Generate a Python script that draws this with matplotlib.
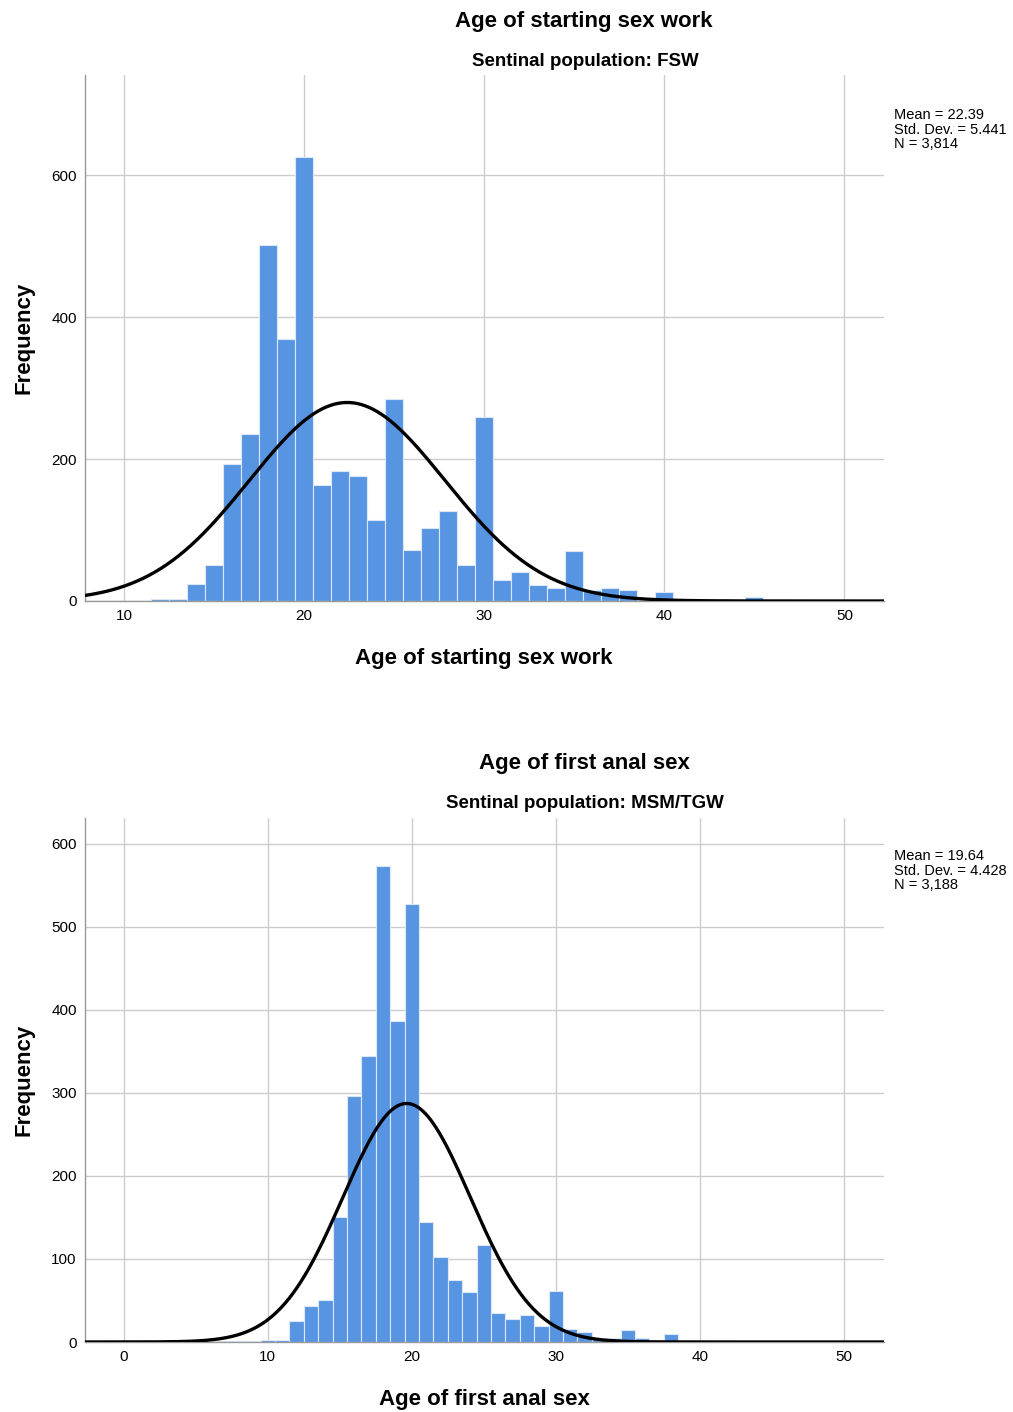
import numpy as np
import matplotlib
matplotlib.use('Agg')
import matplotlib.pyplot as plt

# top panel: age of starting sex work (FSW)
fsw_ages = list(range(12, 51))
fsw_counts = [3, 3, 24, 51, 193, 235, 501, 369, 625, 164,
              183, 176, 114, 285, 72, 103, 127, 51, 259, 30,
              41, 22, 18, 71, 16, 19, 16, 2, 13, 1,
              1, 3, 1, 5, 1, 0, 1, 0, 1]
fsw_stats = {'mean': 22.39, 'sd': 5.441, 'n': 3814}
fsw_ticks = [10, 20, 30, 40, 50]
fsw_yticks = [0, 200, 400, 600]

# bottom panel: age of first anal sex (MSM/TGW)
msm_ages = list(range(7, 43))
msm_counts = [1, 1, 1, 3, 2, 25, 43, 51, 151, 296,
              344, 573, 387, 527, 144, 102, 75, 60, 117, 35,
              28, 32, 19, 61, 16, 12, 4, 5, 14, 5,
              3, 10, 1, 3, 1, 1]
msm_stats = {'mean': 19.64, 'sd': 4.428, 'n': 3188}
msm_ticks = [0, 10, 20, 30, 40, 50]
msm_yticks = [0, 100, 200, 300, 400, 500, 600]

BAR_COLOR = '#5795e3'
GRID_COLOR = '#cccccc'
FONT = 'Liberation Sans'

W, H = 1013, 1412


def px_box(left, top, right, bottom):
    '''
    convert a pixel box into figure fractions
    '''
    return [left / W, 1 - bottom / H, (right - left) / W, (bottom - top) / H]


def draw_panel(fig, box, ages, counts, stats, xticks, yticks, xlim, ylim,
               title, subtitle, xlabel, title_y, sub_y, xlabel_y, stats_y):
    '''
    draw one SPSS style histogram with a normal curve on top
    '''
    ax = fig.add_axes(box)
    ax.bar(ages, counts, width=1.0, color=BAR_COLOR, edgecolor='#dce8f8',
           linewidth=0.8, zorder=2)

    # normal curve scaled to counts (bin width 1)
    x = np.linspace(xlim[0], xlim[1], 400)
    y = stats['n'] / (stats['sd'] * np.sqrt(2 * np.pi)) * np.exp(-0.5 * ((x - stats['mean']) / stats['sd']) ** 2)
    ax.plot(x, y, color='black', linewidth=2.4, zorder=3, solid_capstyle='butt')

    ax.set_xlim(*xlim)
    ax.set_ylim(*ylim)
    ax.set_xticks(xticks)
    ax.set_yticks(yticks)
    ax.tick_params(length=0, labelsize=11, pad=6)
    for lab in ax.get_xticklabels() + ax.get_yticklabels():
        lab.set_family(FONT)
    ax.grid(True, color=GRID_COLOR, linewidth=1.0, zorder=0)
    ax.set_axisbelow(True)
    for side in ['top', 'right']:
        ax.spines[side].set_visible(False)
    for side in ['left', 'bottom']:
        ax.spines[side].set_color('#999999')
        ax.spines[side].set_linewidth(1.0)

    ax.set_ylabel('Frequency', family=FONT, fontsize=16, fontweight='bold', labelpad=12)

    fig.text(484 / W, 1 - xlabel_y / H, xlabel, family=FONT, fontsize=16,
             fontweight='bold', ha='center', va='center')
    fig.text(584 / W, 1 - title_y / H, title, family=FONT, fontsize=16,
             fontweight='bold', ha='center', va='center')
    fig.text(585 / W, 1 - sub_y / H, subtitle, family=FONT, fontsize=13.5,
             fontweight='bold', ha='center', va='center')

    txt = 'Mean = %.2f\nStd. Dev. = %.3f\nN = %s' % (stats['mean'], stats['sd'], format(stats['n'], ','))
    fig.text(894 / W, 1 - stats_y / H, txt, family=FONT, fontsize=10.5,
             ha='left', va='top', linespacing=1.05)
    return ax


def main():
    '''
    build both histograms and save the figure
    '''
    fig = plt.figure(figsize=(W / 100, H / 100), dpi=100)

    draw_panel(fig, px_box(85, 75, 884, 601), fsw_ages, fsw_counts, fsw_stats,
               fsw_ticks, fsw_yticks, (7.83, 52.2), (0, 741),
               'Age of starting sex work', 'Sentinal population: FSW',
               'Age of starting sex work', 22, 61, 658, 108)

    draw_panel(fig, px_box(85, 818, 884, 1342), msm_ages, msm_counts, msm_stats,
               msm_ticks, msm_yticks, (-2.7, 52.8), (0, 631),
               'Age of first anal sex', 'Sentinal population: MSM/TGW',
               'Age of first anal sex', 764, 803, 1399, 849)

    fig.savefig('out.png', dpi=100)


if __name__ == '__main__':
    main()
